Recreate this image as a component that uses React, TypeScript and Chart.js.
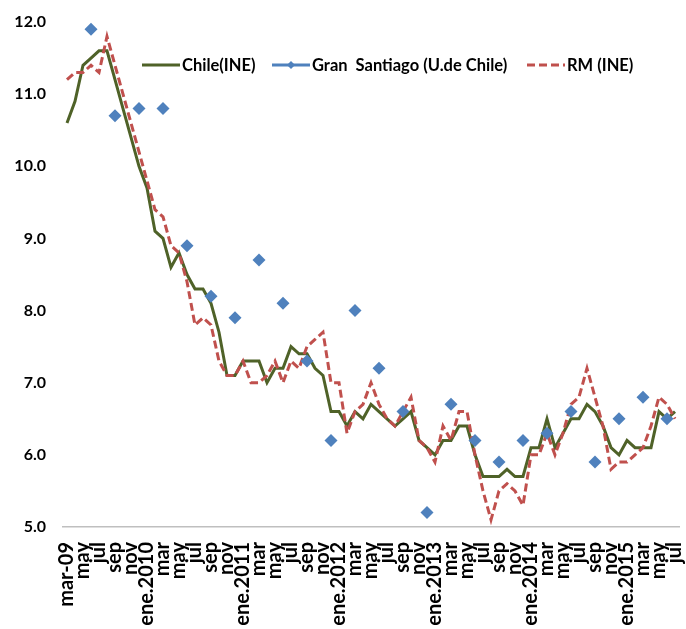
import React, { useEffect, useRef } from 'react';
import { Chart, registerables } from 'chart.js';

Chart.register(...registerables);

// Monthly categories, mar-2009 .. jul-2015
const categories = [
  '2009-03', '2009-04', '2009-05', '2009-06', '2009-07', '2009-08', '2009-09', '2009-10', '2009-11', '2009-12',
  '2010-01', '2010-02', '2010-03', '2010-04', '2010-05', '2010-06', '2010-07', '2010-08', '2010-09', '2010-10', '2010-11', '2010-12',
  '2011-01', '2011-02', '2011-03', '2011-04', '2011-05', '2011-06', '2011-07', '2011-08', '2011-09', '2011-10', '2011-11', '2011-12',
  '2012-01', '2012-02', '2012-03', '2012-04', '2012-05', '2012-06', '2012-07', '2012-08', '2012-09', '2012-10', '2012-11', '2012-12',
  '2013-01', '2013-02', '2013-03', '2013-04', '2013-05', '2013-06', '2013-07', '2013-08', '2013-09', '2013-10', '2013-11', '2013-12',
  '2014-01', '2014-02', '2014-03', '2014-04', '2014-05', '2014-06', '2014-07', '2014-08', '2014-09', '2014-10', '2014-11', '2014-12',
  '2015-01', '2015-02', '2015-03', '2015-04', '2015-05', '2015-06', '2015-07',
];

// Labels shown on every second month
const tickLabels = [
  'mar-09', 'may', 'jul', 'sep', 'nov',
  'ene.2010', 'mar', 'may', 'jul', 'sep', 'nov',
  'ene.2011', 'mar', 'may', 'jul', 'sep', 'nov',
  'ene.2012', 'mar', 'may', 'jul', 'sep', 'nov',
  'ene.2013', 'mar', 'may', 'jul', 'sep', 'nov',
  'ene.2014', 'mar', 'may', 'jul', 'sep', 'nov',
  'ene.2015', 'mar', 'may', 'jul',
];

const chileINE = [
  10.6, 10.9, 11.4, 11.5, 11.6, 11.6, 11.2, 10.8, 10.4, 10.0,
  9.7, 9.1, 9.0, 8.6, 8.8, 8.5, 8.3, 8.3, 8.1, 7.7, 7.1, 7.1,
  7.3, 7.3, 7.3, 7.0, 7.2, 7.2, 7.5, 7.4, 7.4, 7.2, 7.1, 6.6,
  6.6, 6.4, 6.6, 6.5, 6.7, 6.6, 6.5, 6.4, 6.5, 6.6, 6.2, 6.1,
  6.0, 6.2, 6.2, 6.4, 6.4, 6.0, 5.7, 5.7, 5.7, 5.8, 5.7, 5.7,
  6.1, 6.1, 6.5, 6.1, 6.3, 6.5, 6.5, 6.7, 6.6, 6.4, 6.1, 6.0,
  6.2, 6.1, 6.1, 6.1, 6.6, 6.5, 6.6,
];

const rmINE = [
  11.2, 11.3, 11.3, 11.4, 11.3, 11.8, 11.4, 11.0, 10.6, 10.2,
  9.8, 9.4, 9.3, 8.9, 8.8, 8.4, 7.8, 7.9, 7.8, 7.3, 7.1, 7.1,
  7.3, 7.0, 7.0, 7.1, 7.3, 7.0, 7.3, 7.2, 7.5, 7.6, 7.7, 7.0,
  7.0, 6.3, 6.6, 6.7, 7.0, 6.7, 6.5, 6.4, 6.6, 6.8, 6.2, 6.1,
  5.9, 6.4, 6.2, 6.6, 6.6, 6.0, 5.5, 5.1, 5.5, 5.6, 5.5, 5.3,
  6.0, 6.0, 6.3, 6.0, 6.3, 6.7, 6.8, 7.2, 6.8, 6.4, 5.8, 5.9,
  5.9, 6.0, 6.1, 6.4, 6.8, 6.7, 6.5,
];

// Gran Santiago (U. de Chile) quarterly survey
const gsMonths = [
  '2009-06', '2009-09', '2009-12',
  '2010-03', '2010-06', '2010-09', '2010-12',
  '2011-03', '2011-06', '2011-09', '2011-12',
  '2012-03', '2012-06', '2012-09', '2012-12',
  '2013-03', '2013-06', '2013-09', '2013-12',
  '2014-03', '2014-06', '2014-09', '2014-12',
  '2015-03', '2015-06',
];
const gsValues = [
  11.9, 10.7, 10.8,
  10.8, 8.9, 8.2, 7.9,
  8.7, 8.1, 7.3, 6.2,
  8.0, 7.2, 6.6, 5.2,
  6.7, 6.2, 5.9, 6.2,
  6.3, 6.6, 5.9, 6.5,
  6.8, 6.5,
];

const FONT = 'Lato';
const GREEN = '#4F6228';
const BLUE = '#4F81BD';
const RED = '#C0504D';

const legendPlugin = {
  id: 'customLegend',
  afterDraw(chart: any) {
    const ctx = chart.ctx;
    const y = 65;
    const starts = [142, 272, 527];
    ctx.save();
    ctx.font = `bold 16.5px ${FONT}`;
    ctx.textBaseline = 'middle';
    ctx.textAlign = 'left';
    chart.data.datasets.forEach((ds: any, i: number) => {
      const x0 = starts[i];
      ctx.beginPath();
      ctx.lineWidth = 3;
      ctx.strokeStyle = ds.legendColor;
      ctx.setLineDash(ds.borderDash || []);
      ctx.moveTo(x0, y);
      ctx.lineTo(x0 + 38, y);
      ctx.stroke();
      ctx.setLineDash([]);
      if (ds.showLine === false) {
        const cx = x0 + 19;
        const r = 4;
        ctx.beginPath();
        ctx.fillStyle = ds.legendColor;
        ctx.moveTo(cx, y - r);
        ctx.lineTo(cx + r, y);
        ctx.lineTo(cx, y + r);
        ctx.lineTo(cx - r, y);
        ctx.closePath();
        ctx.fill();
      }
      ctx.fillStyle = '#000';
      ctx.fillText(ds.label, x0 + 40, y + 1);
    });
    ctx.restore();
  },
};

export default function App() {
  const ref = useRef<HTMLCanvasElement>(null);

  useEffect(() => {
    if (!ref.current) return;
    const chart = new Chart(ref.current, {
      type: 'line',
      data: {
        labels: categories,
        datasets: [
          {
            label: 'Chile(INE)',
            data: chileINE,
            borderColor: GREEN,
            legendColor: GREEN,
            borderWidth: 3,
            pointRadius: 0,
            tension: 0,
            fill: false,
            order: 2,
          } as any,
          {
            label: 'Gran  Santiago (U.de Chile)',
            data: gsMonths.map((m, i) => ({ x: m, y: gsValues[i] })),
            showLine: false,
            borderColor: BLUE,
            backgroundColor: BLUE,
            legendColor: BLUE,
            pointStyle: 'rectRot',
            pointRadius: 6.5,
            pointBorderWidth: 0,
            order: 0,
          } as any,
          {
            label: 'RM (INE)',
            data: rmINE,
            borderColor: RED,
            legendColor: RED,
            borderWidth: 3,
            borderDash: [8, 4],
            pointRadius: 0,
            tension: 0,
            fill: false,
            order: 1,
          } as any,
        ],
      },
      options: {
        animation: false,
        responsive: false,
        maintainAspectRatio: false,
        layout: { padding: { top: 22, right: 7, left: 0, bottom: 0 } },
        plugins: {
          legend: { display: false },
          tooltip: { enabled: false },
        },
        scales: {
          x: {
            type: 'category',
            offset: true,
            grid: { display: false, drawTicks: false },
            border: { display: true, color: '#BFBFBF', width: 1.5 },
            ticks: {
              autoSkip: false,
              minRotation: 90,
              maxRotation: 90,
              padding: 15,
              color: '#000',
              font: { family: FONT, size: 20, weight: 'bold' },
              callback: (_v: any, i: number) => (i % 2 === 0 ? tickLabels[i / 2] : ''),
            },
            afterFit: (s: any) => {
              s.height = 102;
              s.paddingLeft = 0;
              s.paddingRight = 0;
            },
          },
          y: {
            min: 5,
            max: 12,
            grid: { display: false, drawTicks: false },
            border: { display: false },
            ticks: {
              stepSize: 1,
              padding: 17,
              color: '#000',
              font: { family: FONT, size: 16, weight: 'bold' },
              callback: (v: any) => Number(v).toFixed(1),
            },
            afterFit: (s: any) => {
              s.width = 63;
              s.paddingTop = 0;
              s.paddingBottom = 0;
            },
          },
        },
      } as any,
      plugins: [legendPlugin],
    });
    return () => chart.destroy();
  }, []);

  return (
    <div style={{ position: 'absolute', left: 0, top: 0, width: 686, height: 629, background: '#fff' }}>
      <canvas ref={ref} width={686} height={629} style={{ display: 'block', width: 686, height: 629 }} />
    </div>
  );
}
